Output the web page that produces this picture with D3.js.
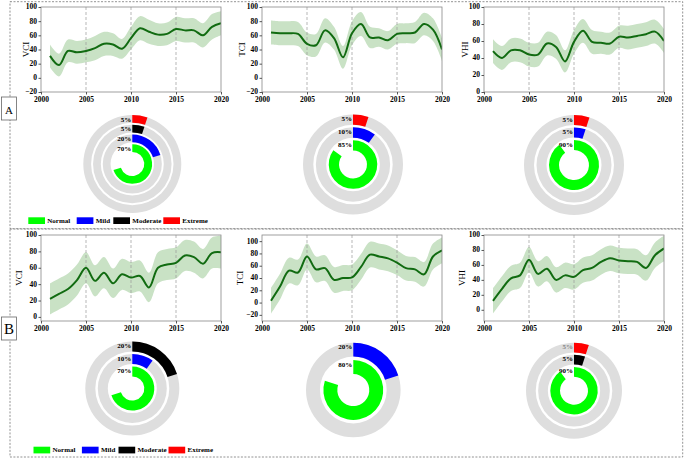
<!DOCTYPE html>
<html>
<head>
<meta charset="utf-8">
<script src="https://cdn.jsdelivr.net/npm/d3@7"></script>
<style>
  body { margin: 0; background: #fff; }
  text { font-family: "Liberation Serif", "Times New Roman", serif; }
</style>
</head>
<body>
<div id="chart"></div>
<script>
// years of the trend series
const years = [2001, 2002, 2003, 2004, 2005, 2006, 2007, 2008, 2009, 2010,
               2011, 2012, 2013, 2014, 2015, 2016, 2017, 2018, 2019, 2020];
const xTicks = [2000, 2005, 2010, 2015, 2020];
const gridYears = [2005, 2010, 2015];

// panel A trends (line value, half width of the shaded band)
const vciA   = [31, 18, 38, 36, 38, 42, 48, 47, 41, 56, 70, 65, 61, 62, 69, 67, 67, 60, 72, 77];
const vciAhw = [16, 16, 16, 16, 16, 17, 17, 16, 14, 16, 17, 17, 16, 16, 17, 17, 17, 17, 18, 17];
const tciA   = [64, 63, 63, 62, 48, 46, 67, 56, 29, 63, 76, 57, 57, 53, 62, 63, 64, 76, 68, 40];
const tciAhw = [17, 17, 17, 17, 16, 16, 17, 16, 16, 17, 17, 15, 13, 13, 14, 14, 15, 16, 16, 16];
const vhiA   = [48, 40, 49, 49, 44, 44, 57, 53, 36, 59, 72, 59, 58, 57, 65, 64, 66, 68, 71, 60];
const vhiAhw = [14, 14, 14, 14, 14, 14, 14, 14, 13, 14, 14, 14, 13, 13, 13, 14, 14, 14, 14, 14];

// panel B trends
const vciB   = [22, 28, 34, 45, 60, 44, 54, 41, 52, 48, 50, 36, 60, 64, 66, 75, 73, 65, 78, 79];
const vciBhw = [19, 19, 19, 19, 19, 19, 19, 18, 19, 19, 19, 18, 19, 19, 19, 19, 19, 18, 19, 20];
const tciB   = [3, 26, 52, 49, 75, 54, 56, 37, 40, 41, 58, 78, 75, 72, 65, 56, 54, 46, 75, 85];
const tciBhw = [21, 21, 21, 21, 21, 21, 21, 21, 21, 21, 21, 21, 21, 21, 20, 20, 20, 20, 21, 21];
const vhiB   = [12, 28, 42, 46, 67, 48, 55, 40, 46, 44, 53, 56, 64, 69, 66, 65, 64, 56, 73, 82];
const vhiBhw = [17, 17, 17, 17, 17, 17, 17, 17, 17, 17, 17, 17, 17, 17, 17, 17, 17, 17, 17, 17];

// drought classes for the ring charts (outer ring first)
const legendCats = ["Normal", "Mild", "Moderate", "Extreme"];
const legendColors = ["#00ff00", "#0000ff", "#000000", "#ff0000"];

const ringsA_VCI = ["Extreme", "Moderate", "Mild", "Normal"];
const pctA_VCI   = [5, 5, 20, 70];
const ringsA_TCI = ["Extreme", "Mild", "Normal"];
const pctA_TCI   = [5, 10, 85];
const ringsA_VHI = ["Extreme", "Mild", "Normal"];
const pctA_VHI   = [5, 5, 90];
const ringsB_VCI = ["Moderate", "Mild", "Normal"];
const pctB_VCI   = [20, 10, 70];
const ringsB_TCI = ["Mild", "Normal"];
const pctB_TCI   = [20, 80];
const ringsB_VHI = ["Extreme", "Moderate", "Normal"];
const pctB_VHI   = [5, 5, 90];

const W = 685, H = 460;
const svg = d3.select("#chart").append("svg")
  .attr("width", W).attr("height", H);

const color = d3.scaleOrdinal().domain(legendCats).range(legendColors);

// dashed panel borders
svg.append("rect").attr("x", 10).attr("y", 1.7).attr("width", 672.7).attr("height", 227)
  .attr("fill", "none").attr("stroke", "#777").attr("stroke-dasharray", "2,1.5").attr("stroke-width", 0.8);
svg.append("rect").attr("x", 10).attr("y", 229).attr("width", 672.7).attr("height", 228)
  .attr("fill", "none").attr("stroke", "#777").attr("stroke-dasharray", "2,1.5").attr("stroke-width", 0.8);

// panel letters
function panelLabel(y, txt, size) {
  svg.append("rect").attr("x", 1.5).attr("y", y).attr("width", 15).attr("height", 23)
    .attr("fill", "#fff").attr("stroke", "#666").attr("stroke-width", 0.8);
  svg.append("text").attr("x", 9).attr("y", y + 17).attr("text-anchor", "middle")
    .style("font-size", size + "px").text(txt);
}
panelLabel(97, "A", 11);
panelLabel(317, "B", 15);

let clipId = 0;
function drawTrend(cfg) {
  const x = d3.scaleLinear().domain([2000, 2020]).range([cfg.left, cfg.right]);
  const y = d3.scaleLinear().domain(cfg.yDomain).range([cfg.bottom, cfg.top]);
  const g = svg.append("g");

  const cid = "clip" + (clipId++);
  g.append("clipPath").attr("id", cid).append("rect")
    .attr("x", cfg.left).attr("y", cfg.top)
    .attr("width", cfg.right - cfg.left).attr("height", cfg.bottom - cfg.top);

  // shaded band
  const area = d3.area()
    .x((d, i) => x(years[i]))
    .y0((d, i) => y(d - cfg.hw[i]))
    .y1((d, i) => y(d + cfg.hw[i]))
    .curve(d3.curveCatmullRom.alpha(0.5));
  g.append("path").datum(cfg.values)
    .attr("clip-path", `url(#${cid})`)
    .attr("d", area).attr("fill", "#c9e2c5");

  // dashed year lines
  g.selectAll(".grid").data(gridYears).enter().append("line")
    .attr("x1", d => x(d)).attr("x2", d => x(d))
    .attr("y1", cfg.top).attr("y2", cfg.bottom)
    .attr("stroke", "#999").attr("stroke-width", 0.7).attr("stroke-dasharray", "3,2");

  const line = d3.line()
    .x((d, i) => x(years[i]))
    .y(d => y(d))
    .curve(d3.curveCatmullRom.alpha(0.5));
  g.append("path").datum(cfg.values)
    .attr("clip-path", `url(#${cid})`)
    .attr("d", line).attr("fill", "none")
    .attr("stroke", "#116b11").attr("stroke-width", 2);

  // frame
  g.append("rect").attr("x", cfg.left).attr("y", cfg.top)
    .attr("width", cfg.right - cfg.left).attr("height", cfg.bottom - cfg.top)
    .attr("fill", "none").attr("stroke", "#888").attr("stroke-width", 0.8);

  // axes
  const ax = g.append("g").attr("transform", `translate(0,${cfg.bottom})`)
    .call(d3.axisBottom(x).tickValues(xTicks).tickFormat(d3.format("d")).tickSize(2.5).tickPadding(2.5));
  const ay = g.append("g").attr("transform", `translate(${cfg.left},0)`)
    .call(d3.axisLeft(y).tickValues(cfg.yTicks).tickSize(2.5).tickPadding(1.5));
  [ax, ay].forEach(a => {
    a.select(".domain").remove();
    a.selectAll("line").attr("stroke", "#555");
    a.selectAll("text").attr("fill", "#000")
      .style("font-family", "'Liberation Serif', serif")
      .style("font-size", "7.5px").style("font-weight", "bold");
  });
  ay.selectAll("text").attr("dy", "0.25em");

  g.append("text")
    .attr("transform", `translate(${cfg.left - cfg.labelOff},${(cfg.top + cfg.bottom) / 2}) rotate(-90)`)
    .attr("text-anchor", "middle")
    .style("font-size", "9px")
    .text(cfg.name);
}

function drawRings(cx, cy, rIn, rOut, cats, pcts, topLabelColor) {
  const r = d3.scaleBand().domain(cats).range([rOut, rIn]).paddingInner(0.2);
  const bw = r.bandwidth();
  const g = svg.append("g").attr("transform", `translate(${cx},${cy})`);
  const arc = d3.arc();

  // grey tracks behind the outer rings
  cats.forEach(c => {
    if (c === "Normal") return;
    g.append("path")
      .attr("d", arc({innerRadius: r(c), outerRadius: r(c) + bw, startAngle: 0, endAngle: 2 * Math.PI}))
      .attr("fill", "#dedede");
  });
  cats.forEach((c, i) => {
    g.append("path")
      .attr("d", arc({innerRadius: r(c), outerRadius: r(c) + bw, startAngle: 0, endAngle: 2 * Math.PI * pcts[i] / 100}))
      .attr("fill", color(c));
    g.append("text")
      .attr("x", -1).attr("y", -(r(c) + bw - 4.5))
      .attr("text-anchor", "end").attr("dominant-baseline", "central")
      .style("font-size", "7px").style("font-weight", "bold")
      .attr("fill", (i === 0 && topLabelColor) ? topLabelColor : "#000")
      .text(pcts[i] + "%");
  });
}

function drawLegend(x0, y0) {
  const offs = [0, 48.4, 85, 135];
  const g = svg.append("g").attr("transform", `translate(${x0},${y0})`);
  legendCats.forEach((c, i) => {
    g.append("rect").attr("x", offs[i]).attr("y", 0).attr("width", 16.7).attr("height", 6.7)
      .attr("fill", color(c));
    g.append("text").attr("x", offs[i] + 19).attr("y", 5.6)
      .style("font-size", "7px").style("font-weight", "bold").text(c);
  });
}

// panel A
drawTrend({name: "VCI", values: vciA, hw: vciAhw, left: 41, right: 221, top: 7, bottom: 92,
           yDomain: [-20, 100], yTicks: [-20, 0, 20, 40, 60, 80, 100], labelOff: 12});
drawTrend({name: "TCI", values: tciA, hw: tciAhw, left: 262, right: 442, top: 7, bottom: 92,
           yDomain: [-20, 100], yTicks: [-20, 0, 20, 40, 60, 80, 100], labelOff: 17});
drawTrend({name: "VHI", values: vhiA, hw: vhiAhw, left: 484, right: 664, top: 7, bottom: 92,
           yDomain: [0, 100], yTicks: [0, 20, 40, 60, 80, 100], labelOff: 16});

drawRings(132.3, 164, 12, 49, ringsA_VCI, pctA_VCI);
drawRings(353, 164.5, 14, 50, ringsA_TCI, pctA_TCI);
drawRings(574, 165, 15, 50, ringsA_VHI, pctA_VHI);
drawLegend(28.3, 217.3);

// panel B
drawTrend({name: "VCI", values: vciB, hw: vciBhw, left: 41, right: 221, top: 235, bottom: 321,
           yDomain: [-5, 100], yTicks: [0, 20, 40, 60, 80, 100], labelOff: 19});
drawTrend({name: "TCI", values: tciB, hw: tciBhw, left: 262, right: 442, top: 235, bottom: 321,
           yDomain: [-30, 110], yTicks: [-20, 0, 20, 40, 60, 80, 100], labelOff: 19.5});
drawTrend({name: "VHI", values: vhiB, hw: vhiBhw, left: 484, right: 664, top: 235, bottom: 321,
           yDomain: [-15, 100], yTicks: [0, 20, 40, 60, 80, 100], labelOff: 19.5});

drawRings(132.3, 388.5, 12, 47, ringsB_VCI, pctB_VCI);
drawRings(353.3, 390, 16, 47.3, ringsB_TCI, pctB_TCI);
drawRings(574, 390.7, 14, 48, ringsB_VHI, pctB_VHI, "#888");
drawLegend(33.5, 446.7);
</script>
</body>
</html>
